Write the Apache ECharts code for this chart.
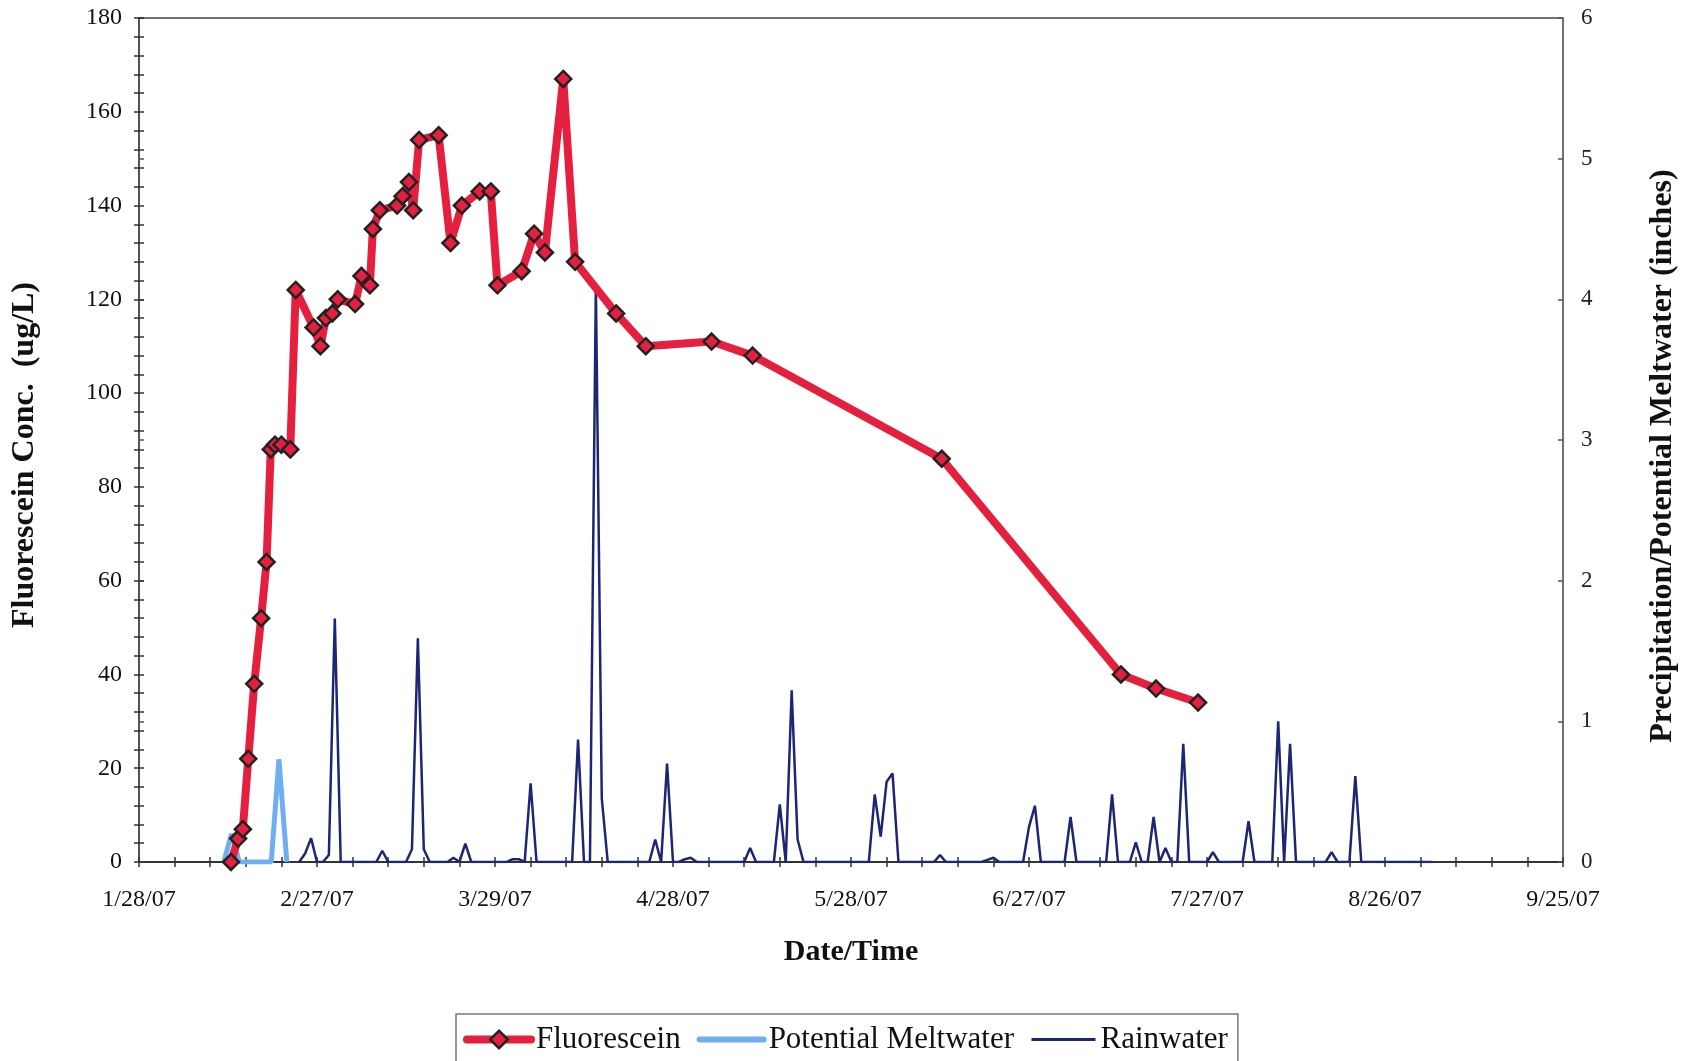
<!DOCTYPE html>
<html><head><meta charset="utf-8">
<script src="https://cdn.jsdelivr.net/npm/echarts@6/dist/echarts.min.js"></script>
<style>html,body{margin:0;padding:0;background:#fff}#c{width:1692px;height:1061px}</style>
</head><body><div id="c"></div>
<script>
// ---- data ----
const xTickLabels = ['1/28/07','2/27/07','3/29/07','4/28/07','5/28/07','6/27/07','7/27/07','8/26/07','9/25/07'];

const fluorDates = ['2/12/07 12:00','2/13/07 17:00','2/14/07 12:00','2/15/07 10:00','2/16/07 10:00','2/17/07 14:00','2/18/07 12:00',
 '2/19/07 05:00','2/19/07 22:00','2/21/07 00:00','2/22/07 12:00','2/23/07 10:00','2/26/07 10:00','2/27/07 14:00','2/28/07 12:00',
 '3/1/07 14:00','3/2/07 12:00','3/5/07 10:00','3/6/07 12:00','3/7/07 22:00','3/8/07 10:00','3/9/07 14:00','3/12/07 12:00',
 '3/13/07 10:00','3/14/07 12:00','3/15/07 05:00','3/16/07 05:00','3/19/07 12:00','3/21/07 12:00','3/23/07 10:00','3/26/07 10:00',
 '3/28/07 07:00','3/29/07 10:00','4/2/07 12:00','4/4/07 14:00','4/6/07 10:00','4/9/07 12:00','4/11/07 12:00','4/18/07 10:00',
 '4/23/07 10:00','5/4/07 12:00','5/11/07 10:00','6/12/07 07:00','7/12/07 12:00','7/18/07 10:00','7/25/07 12:00'];
const fluorValues = [0,5,7,22,38,52,64,
 88,89,89,88,122,114,110,116,
 117,120,119,125,123,135,139,140,
 142,145,139,154,155,132,140,143,
 143,123,126,134,130,167,128,117,
 110,111,108,86,40,37,34];

const meltDates = ['2/11/07 07:00','2/12/07 14:00','2/13/07 22:00','2/19/07 07:00','2/20/07 14:00','2/21/07 22:00'];
const meltValues = [0,0.2,0,0,0.73,0];

const rainStart = '2/24/07';
const rainValues = [
 0,0.06,0.17,0,0,0.05,1.73,0,0,0,
 0,0,0,0,0.08,0,0,0,0,0.09,
 1.59,0.09,0,0,0,0,0.03,0,0.13,0,
 0,0,0,0,0,0,0.02,0.02,0,0.56,
 0,0,0,0,0,0,0,0.87,0,0,
 4.1,0.45,0,0,0,0,0,0,0,0,
 0.16,0,0.7,0,0,0.02,0.03,0,0,0,
 0,0,0,0,0,0,0.1,0,0,0,
 0,0.41,0,1.22,0.16,0,0,0,0,0,
 0,0,0,0,0,0,0,0.48,0.18,0.57,
 0.63,0,0,0,0,0,0,0,0.05,0,
 0,0,0,0,0,0,0.015,0.03,0,0,
 0,0,0,0.25,0.4,0,0,0,0,0,
 0.32,0,0,0,0,0,0,0.48,0,0,
 0,0.14,0,0,0.32,0,0.1,0,0,0.84,
 0,0,0,0,0.07,0,0,0,0,0,
 0.29,0,0,0,0,1.0,0,0.84,0,0,
 0,0,0,0,0.07,0,0,0,0.61,0,
 0,0,0,0,0,0,0,0,0,0,
 0,0];

// ---- helpers ----
function parseDay(s){
  const parts = s.split(' ');
  const [m,d,y] = parts[0].split('/').map(Number);
  let h=0, mi=0;
  if(parts[1]){ [h,mi] = parts[1].split(':').map(Number); }
  return (Date.UTC(2000+y,m-1,d,h,mi) - Date.UTC(2007,0,28))/86400000;
}
const fluorData = fluorDates.map((s,i)=>[parseDay(s), fluorValues[i]]);
const meltData = meltDates.map((s,i)=>[parseDay(s), meltValues[i]]);
const rain0 = parseDay(rainStart);
const rainData = rainValues.map((v,i)=>[rain0+i, v]);

const font = 'Liberation Serif';
const axisCol = '#333';
const tickStyle = {color:axisCol,width:1.5};
const RED = '#E5203F', BLUE = '#6FAFF0', NAVY = '#1C2675';

const chart = echarts.init(document.getElementById('c'));
chart.setOption({
  animation:false,
  backgroundColor:'#ffffff',
  grid:{left:139,right:129,top:18,bottom:199,show:true,borderColor:'#444',borderWidth:1.5,backgroundColor:'transparent'},
  xAxis:[
    {type:'value',min:0,max:240,interval:30,
     axisLine:{lineStyle:{color:axisCol,width:2}},
     axisTick:{length:5,lineStyle:tickStyle},
     minorTick:{show:true,splitNumber:5,length:5,lineStyle:tickStyle},
     splitLine:{show:false},
     axisLabel:{fontFamily:font,fontSize:24,color:'#111',margin:26,showMaxLabel:true,showMinLabel:true,
       formatter:v=>xTickLabels[Math.round(v/30)]},
     name:'Date/Time',nameLocation:'middle',nameGap:75,
     nameTextStyle:{fontFamily:font,fontSize:30,fontWeight:'bold',color:'#111'}},
    {type:'value',min:0,max:240,interval:30,position:'bottom',
     axisLine:{show:false},
     axisTick:{inside:true,length:5,lineStyle:tickStyle},
     minorTick:{show:true,splitNumber:5,length:5,lineStyle:tickStyle},
     splitLine:{show:false},axisLabel:{show:false}}
  ],
  yAxis:[
    {type:'value',min:0,max:180,interval:20,position:'left',
     axisLine:{show:true,lineStyle:{color:axisCol,width:2}},
     axisTick:{show:true,length:5,lineStyle:tickStyle},
     minorTick:{show:true,splitNumber:5,length:5,lineStyle:tickStyle},
     splitLine:{show:false},
     axisLabel:{fontFamily:font,fontSize:24,color:'#111',margin:17},
     name:'Fluorescein Conc.  (ug/L)',nameLocation:'middle',nameGap:98,nameRotate:90,
     nameTextStyle:{fontFamily:font,fontSize:32,fontWeight:'bold',color:'#111',padding:[0,30,0,0]}},
    {type:'value',min:0,max:6,interval:1,position:'right',
     axisLine:{show:true,lineStyle:{color:'#555',width:2}},
     axisTick:{show:true,length:5,lineStyle:{color:'#555',width:1.5}},
     splitLine:{show:false},
     axisLabel:{fontFamily:font,fontSize:23,color:'#222',margin:18},
     name:'Precipitation/Potential Meltwater (inches)',nameLocation:'middle',nameGap:84,nameRotate:90,
     nameTextStyle:{fontFamily:font,fontSize:32,fontWeight:'bold',color:'#111',padding:[0,32,0,0]}},
    {type:'value',min:0,max:180,interval:20,position:'left',
     axisLine:{show:false},
     axisTick:{show:true,inside:true,length:5,lineStyle:tickStyle},
     minorTick:{show:true,splitNumber:5,length:5,lineStyle:tickStyle},
     splitLine:{show:false},axisLabel:{show:false}},
    {type:'value',min:0,max:6,interval:1,position:'right',
     axisLine:{show:false},
     axisTick:{show:true,inside:true,length:5,lineStyle:{color:'#555',width:1.5}},
     splitLine:{show:false},axisLabel:{show:false}}
  ],
  legend:{
    data:[
      {name:'Fluorescein',lineStyle:{width:8,color:RED,cap:'round'},itemStyle:{color:RED,borderColor:'#222',borderWidth:2.5}},
      {name:'Potential Meltwater',lineStyle:{width:6,color:BLUE,cap:'round'},itemStyle:{opacity:0}},
      {name:'Rainwater',lineStyle:{width:3,color:NAVY},itemStyle:{opacity:0}}
    ],
    left:456,top:1014,orient:'horizontal',
    padding:[10,10,8,7],borderColor:'#777',borderWidth:1.5,backgroundColor:'#fff',
    itemWidth:64,itemHeight:22,itemGap:16,
    textStyle:{fontFamily:font,fontSize:31,color:'#111'}
  },
  series:[
    {name:'Rainwater',type:'line',xAxisIndex:0,yAxisIndex:1,data:rainData,
     symbol:'none',showSymbol:false,z:2,
     lineStyle:{color:NAVY,width:2.5},itemStyle:{color:NAVY}},
    {name:'Potential Meltwater',type:'line',xAxisIndex:0,yAxisIndex:1,data:meltData,
     symbol:'none',showSymbol:false,z:3,
     lineStyle:{color:BLUE,width:5},itemStyle:{color:BLUE}},
    {name:'Fluorescein',type:'line',xAxisIndex:0,yAxisIndex:0,data:fluorData,
     symbol:'diamond',symbolSize:16,showSymbol:true,z:5,
     lineStyle:{color:RED,width:8},
     itemStyle:{color:RED,borderColor:'#222',borderWidth:2.5}}
  ]
});
</script></body></html>
